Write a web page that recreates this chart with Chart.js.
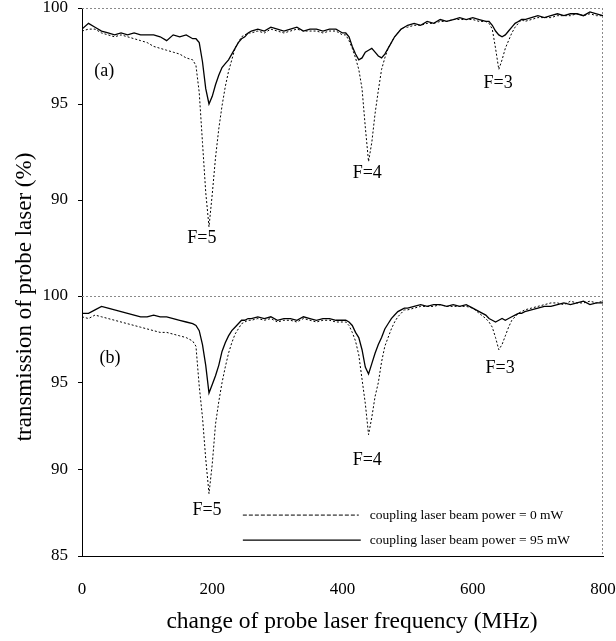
<!DOCTYPE html>
<html>
<head>
<meta charset="utf-8">
<script src="https://cdn.jsdelivr.net/npm/chart.js@4.4.1/dist/chart.umd.min.js"></script>
<style>
  html, body { margin: 0; padding: 0; background: #fff; }
  #wrap { width: 616px; height: 641px; position: relative; }
</style>
</head>
<body>
<div id="wrap"><canvas id="spectrum"></canvas></div>
<script>
// probe laser detuning (MHz)
const freq = [
  0, 10, 20, 30, 40, 50, 60, 70, 80, 90, 100, 110, 120, 130, 140, 150, 160, 170,
  175, 180, 185, 190, 195, 200, 205, 210, 215, 220, 225, 230, 235, 240, 245, 250, 255,
  260, 270, 280, 290, 300, 310, 320, 330, 340, 350, 360, 370, 380, 390, 400,
  405, 410, 415, 420, 425, 430, 435, 440, 445, 450, 455, 460, 465, 470, 475, 480, 485, 490, 495,
  500, 510, 520, 530, 540, 550, 560, 570, 580, 590, 600, 610, 620,
  625, 630, 635, 640, 645, 650, 655, 660, 665, 670, 675,
  680, 690, 700, 710, 720, 730, 740, 750, 760, 770, 780, 790, 800
];

// panel (a), transmission in %
const aZero = [
  98.8, 98.9, 98.9, 98.7, 98.6, 98.5, 98.6, 98.5, 98.4, 98.3, 98.2, 98.0, 97.9, 97.8, 97.7, 97.6, 97.4, 97.3,
  97.0, 95.6, 93.0, 90.4, 88.6, 90.3, 92.2, 93.7, 94.9, 95.9, 96.7, 97.3, 97.9, 98.2, 98.5, 98.6, 98.7,
  98.7, 98.8, 98.7, 98.9, 98.8, 98.7, 98.8, 98.9, 98.8, 98.8, 98.8, 98.7, 98.8, 98.8, 98.6,
  98.6, 98.3, 97.9, 97.4, 96.8, 95.8, 93.8, 92.0, 93.0, 94.5, 95.7, 96.8, 97.4, 97.9, 98.2, 98.5, 98.7, 98.9, 99.0,
  99.0, 99.1, 99.1, 99.2, 99.2, 99.3, 99.3, 99.4, 99.4, 99.4, 99.4, 99.3, 99.3,
  99.2, 98.9, 97.9, 96.8, 97.3, 97.9, 98.3, 98.7, 99.0, 99.2, 99.4,
  99.3, 99.4, 99.5, 99.5, 99.5, 99.6, 99.6, 99.6, 99.7, 99.6, 99.7, 99.6, 99.6
];
const aCoupled = [
  98.9, 99.2, 99.0, 98.8, 98.7, 98.6, 98.7, 98.6, 98.7, 98.6, 98.6, 98.6, 98.5, 98.3, 98.6, 98.5, 98.6, 98.4,
  98.4, 98.2, 97.2, 95.8, 95.0, 95.4, 96.0, 96.5, 96.9, 97.1, 97.3, 97.6, 97.9, 98.2, 98.4, 98.5, 98.7,
  98.8, 98.9, 98.8, 99.0, 98.9, 98.8, 98.9, 99.0, 98.8, 98.9, 98.9, 98.8, 98.9, 98.9, 98.7,
  98.7, 98.5, 98.0, 97.6, 97.3, 97.4, 97.7, 97.8, 97.9, 97.7, 97.5, 97.4, 97.6, 97.9, 98.2, 98.5, 98.7, 98.9, 99.0,
  99.1, 99.2, 99.1, 99.3, 99.2, 99.4, 99.3, 99.4, 99.5, 99.4, 99.5, 99.4, 99.3,
  99.3, 99.1, 98.8, 98.6, 98.5, 98.6, 98.8, 99.0, 99.2, 99.3, 99.4,
  99.4, 99.5, 99.6, 99.5, 99.6, 99.7, 99.6, 99.7, 99.7, 99.6, 99.8, 99.7, 99.6
];

// panel (b), transmission in %
const bZero = [
  98.8, 98.7, 98.9, 98.8, 98.7, 98.6, 98.5, 98.4, 98.3, 98.2, 98.1, 98.0, 97.9, 97.9, 97.8, 97.7, 97.6, 97.4,
  97.1, 94.8, 93.0, 90.6, 88.6, 90.3, 92.6, 93.9, 95.0, 95.9, 96.7, 97.3, 97.8, 98.1, 98.4, 98.5, 98.6,
  98.6, 98.7, 98.6, 98.7, 98.5, 98.6, 98.6, 98.5, 98.7, 98.6, 98.5, 98.6, 98.6, 98.5, 98.5,
  98.5, 98.3, 97.9, 97.4, 96.6, 95.2, 93.8, 92.0, 93.0, 94.2, 95.0, 96.2, 97.1, 97.6, 98.1, 98.5, 98.8, 99.0, 99.2,
  99.2, 99.3, 99.4, 99.4, 99.4, 99.5, 99.4, 99.4, 99.4, 99.4, 99.3, 99.0, 98.7,
  98.5, 98.2, 97.6, 96.9, 97.2, 97.7, 98.2, 98.6, 98.8, 99.0, 99.1,
  99.2, 99.3, 99.4, 99.5, 99.6, 99.6, 99.5, 99.7, 99.6, 99.6, 99.7, 99.6, 99.7
];
const bCoupled = [
  99.0, 99.0, 99.2, 99.4, 99.3, 99.2, 99.1, 99.0, 98.9, 98.8, 98.8, 98.9, 98.8, 98.8, 98.7, 98.6, 98.5, 98.4,
  98.3, 98.0, 97.2, 96.0, 94.4, 94.9, 95.4, 96.0, 96.8, 97.3, 97.7, 98.0, 98.2, 98.4, 98.6, 98.6, 98.7,
  98.7, 98.8, 98.7, 98.8, 98.6, 98.7, 98.7, 98.6, 98.8, 98.7, 98.6, 98.7, 98.7, 98.6, 98.6,
  98.6, 98.5, 98.3, 97.9, 97.6, 96.9, 95.9, 95.5, 96.1, 96.7, 97.2, 97.6, 98.1, 98.4, 98.7, 98.9, 99.1, 99.2, 99.3,
  99.3, 99.4, 99.5, 99.4, 99.5, 99.5, 99.4, 99.5, 99.4, 99.5, 99.3, 99.1, 98.9,
  98.7, 98.6, 98.5, 98.6, 98.7, 98.6, 98.7, 98.8, 98.9, 99.0, 99.0,
  99.1, 99.2, 99.3, 99.4, 99.4, 99.5, 99.6, 99.5, 99.6, 99.7, 99.5, 99.6, 99.6
];

const legendLabels = ['coupling laser beam power = 0 mW', 'coupling laser beam power = 95 mW'];
const peakLabels = ['F=5', 'F=4', 'F=3'];
const xTitle = 'change of probe laser frequency (MHz)';
const yTitle = 'transmission of probe laser (%)';

const serif = '"Liberation Serif", "DejaVu Serif", serif';
const pts = arr => freq.map((f, i) => ({ x: f, y: arr[i] }));

// text anchors in data units: [x, y, axis]
const peakPos = [
  [[184, 88.0, 'yA'], [438, 91.4, 'yA'], [639, 96.1, 'yA']],
  [[192, 87.65, 'yB'], [438, 90.5, 'yB'], [642, 95.85, 'yB']]
];

const panelMarks = {
  id: 'panelMarks',
  beforeDatasetsDraw(chart) {
    const { ctx, chartArea: a, scales: { yA, yB } } = chart;
    ctx.save();
    ctx.strokeStyle = '#8a8a8a';
    ctx.lineWidth = 1;
    ctx.setLineDash([2, 2]);
    ctx.beginPath();
    const top = Math.round(yA.getPixelForValue(100)) + 0.5;
    const mid = Math.round(yB.getPixelForValue(100)) + 0.5;
    ctx.moveTo(a.left, top); ctx.lineTo(a.right, top);
    ctx.moveTo(a.left, mid); ctx.lineTo(a.right, mid);
    ctx.moveTo(Math.round(a.right) - 0.5, a.top); ctx.lineTo(Math.round(a.right) - 0.5, a.bottom);
    ctx.stroke();
    ctx.restore();
  },
  afterDraw(chart) {
    const { ctx, scales } = chart;
    const x = scales.x;
    ctx.save();
    ctx.fillStyle = '#000';
    ctx.textAlign = 'center';
    ctx.textBaseline = 'middle';

    // axis titles (y one is shared by both panels)
    ctx.font = '23.5px ' + serif;
    ctx.fillText(xTitle, 352, 622);
    ctx.save();
    ctx.font = '23px ' + serif;
    ctx.translate(25, 297);
    ctx.rotate(-Math.PI / 2);
    ctx.fillText(yTitle, 0, 0);
    ctx.restore();

    // panel tags
    ctx.font = '18px ' + serif;
    ctx.fillText('(a)', x.getPixelForValue(34), scales.yA.getPixelForValue(96.7));
    ctx.fillText('(b)', x.getPixelForValue(43), scales.yB.getPixelForValue(96.4));

    // hyperfine labels
    peakPos.forEach(panel => panel.forEach((p, i) => {
      ctx.fillText(peakLabels[i], x.getPixelForValue(p[0]), scales[p[2]].getPixelForValue(p[1]));
    }));

    // legend inside lower panel
    const y0 = scales.yB.getPixelForValue(87.36);
    const y1 = scales.yB.getPixelForValue(85.92);
    const lx0 = x.getPixelForValue(247), lx1 = x.getPixelForValue(425);
    ctx.strokeStyle = '#000';
    ctx.lineWidth = 1;
    ctx.setLineDash([4, 2]);
    ctx.beginPath(); ctx.moveTo(lx0, y0); ctx.lineTo(lx1, y0); ctx.stroke();
    ctx.setLineDash([]);
    ctx.lineWidth = 1.2;
    ctx.beginPath(); ctx.moveTo(lx0, y1); ctx.lineTo(lx1 + 2, y1); ctx.stroke();
    ctx.font = '13.5px ' + serif;
    ctx.textAlign = 'left';
    ctx.fillText(legendLabels[0], lx1 + 11, y0);
    ctx.fillText(legendLabels[1], lx1 + 11, y1);
    ctx.restore();
  }
};

const yPanel = (hideBottom, weight) => ({
  min: 85,
  max: 100,
  stack: 'panels',
  stackWeight: weight,
  position: 'left',
  afterFit: s => { s.width = 82; s.paddingTop = 0; s.paddingBottom = 0; },
  border: { display: true, color: '#000', width: 1 },
  grid: { display: true, drawOnChartArea: false, tickLength: 4, color: '#000' },
  ticks: {
    stepSize: 5,
    padding: 10,
    color: '#000',
    font: { family: serif, size: 17 },
    callback: v => (hideBottom && v === 85) ? '' : v
  }
});

new Chart(document.getElementById('spectrum'), {
  type: 'line',
  data: {
    datasets: [
      { data: pts(aZero), yAxisID: 'yA', borderColor: '#000', borderWidth: 1, borderDash: [2, 2] },
      { data: pts(aCoupled), yAxisID: 'yA', borderColor: '#000', borderWidth: 1.3 },
      { data: pts(bZero), yAxisID: 'yB', borderColor: '#000', borderWidth: 1, borderDash: [2, 2] },
      { data: pts(bCoupled), yAxisID: 'yB', borderColor: '#000', borderWidth: 1.3 }
    ]
  },
  options: {
    responsive: true,
    maintainAspectRatio: false,
    animation: false,
    layout: { padding: { top: 8, right: 13, left: 0, bottom: 0 } },
    elements: { point: { radius: 0 }, line: { tension: 0 } },
    plugins: { legend: { display: false }, tooltip: { enabled: false } },
    scales: {
      x: {
        type: 'linear',
        min: 0,
        max: 800,
        afterFit: s => { s.height = 85; s.paddingRight = 0; s.paddingLeft = 0; },
        border: { display: true, color: '#000', width: 1 },
        grid: { display: false, drawTicks: false },
        ticks: { stepSize: 200, padding: 23, color: '#000', font: { family: serif, size: 17 } }
      },
      // lower panel listed first so it stacks under the upper one
      yB: yPanel(false, 260),
      yA: yPanel(true, 288)
    }
  },
  plugins: [panelMarks]
});
</script>
</body>
</html>
